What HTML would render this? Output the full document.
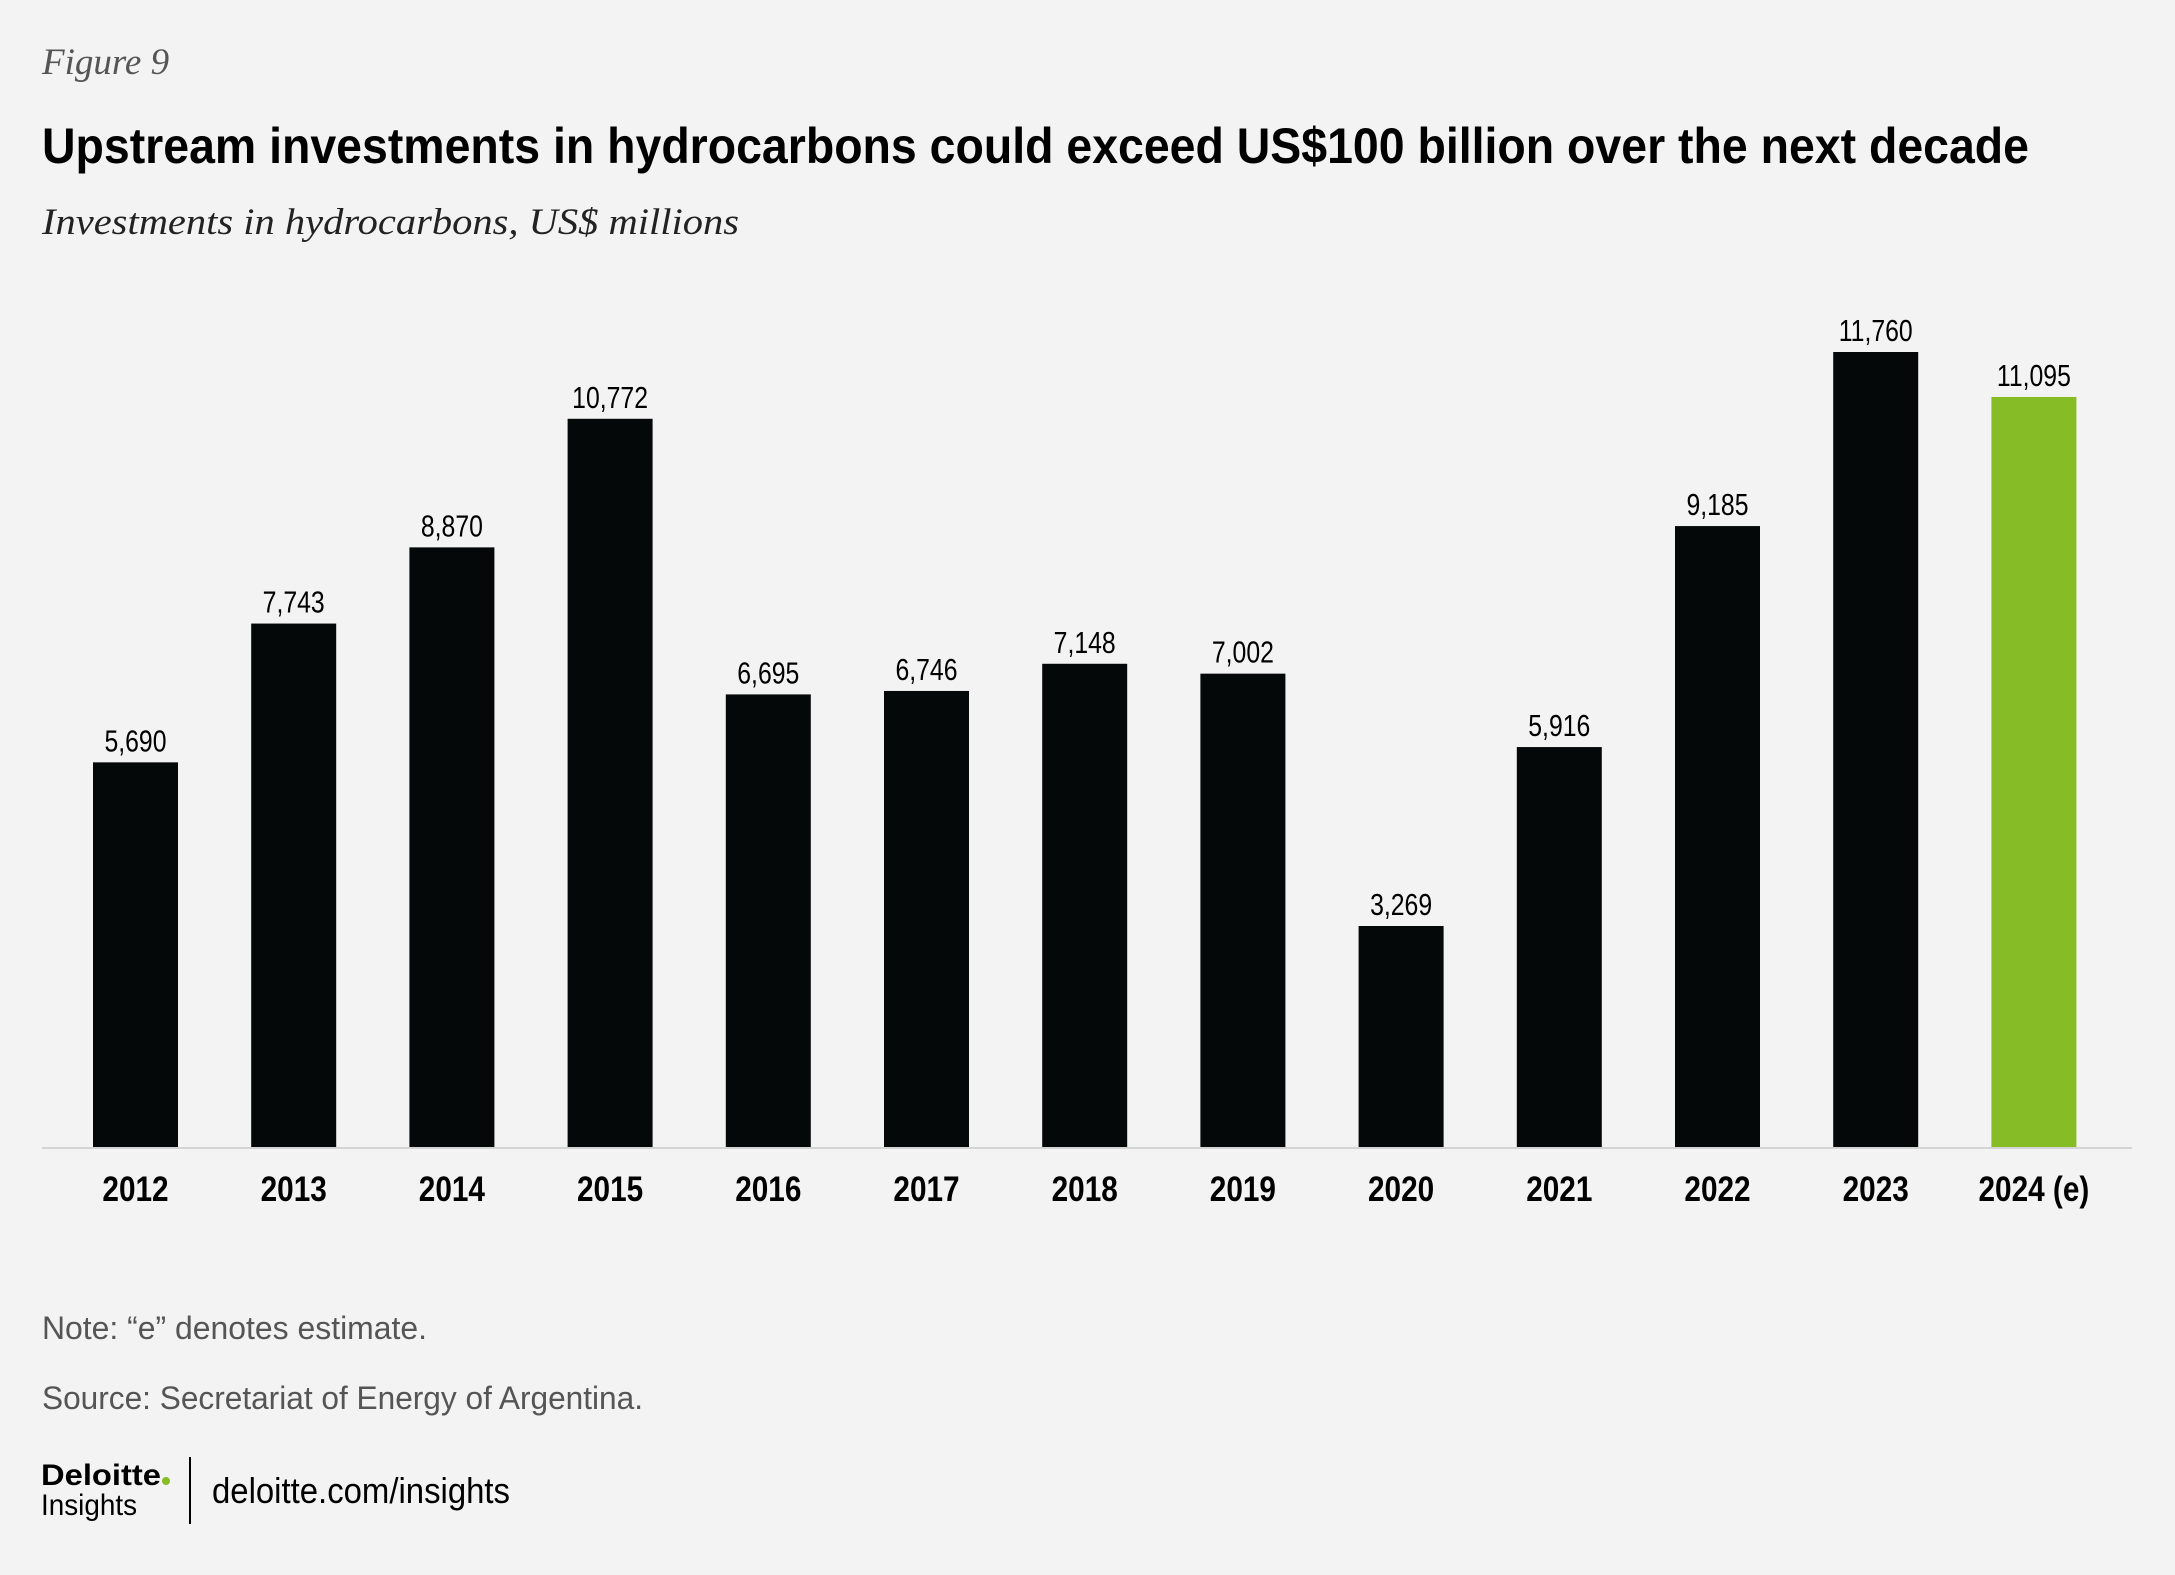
<!DOCTYPE html>
<html><head><meta charset="utf-8"><style>
html,body{margin:0;padding:0;background:#f3f3f3;}
svg{display:block;}
</style></head><body>
<svg id="chart" width="2175" height="1575" viewBox="0 0 2175 1575" xmlns="http://www.w3.org/2000/svg">
<rect width="2175" height="1575" fill="#f3f3f3"/>
<text x="42" y="74" font-family="Liberation Serif, serif" font-style="italic" font-size="37" fill="#555">Figure 9</text>
<text x="42" y="163" font-family="Liberation Sans, sans-serif" font-weight="bold" font-size="50" fill="#000" textLength="1987" lengthAdjust="spacingAndGlyphs">Upstream investments in hydrocarbons could exceed US$100 billion over the next decade</text>
<text x="42" y="234" font-family="Liberation Serif, serif" font-style="italic" font-size="37" fill="#222" textLength="697" lengthAdjust="spacingAndGlyphs">Investments in hydrocarbons, US$ millions</text>
<g id="plot"></g>
<line x1="42" y1="1148" x2="2132" y2="1148" stroke="#d4d4d4" stroke-width="2"/>
<text x="42" y="1339" font-family="Liberation Sans, sans-serif" font-size="32" fill="#555" textLength="385" lengthAdjust="spacingAndGlyphs">Note: “e” denotes estimate.</text>
<text x="42" y="1409" font-family="Liberation Sans, sans-serif" font-size="32" fill="#555" textLength="601" lengthAdjust="spacingAndGlyphs">Source: Secretariat of Energy of Argentina.</text>
<g>
<text x="41" y="1485" font-family="Liberation Sans, sans-serif" font-weight="bold" font-size="30" fill="#000" textLength="120" lengthAdjust="spacingAndGlyphs">Deloitte</text>
<circle cx="166" cy="1481" r="4" fill="#86bc25"/>
<text x="41" y="1515" font-family="Liberation Sans, sans-serif" font-size="30" fill="#000" textLength="96" lengthAdjust="spacingAndGlyphs">Insights</text>
</g>
<line x1="190" y1="1457" x2="190" y2="1524" stroke="#000" stroke-width="2"/>
<text x="212" y="1503" font-family="Liberation Sans, sans-serif" font-size="36" fill="#000" textLength="298" lengthAdjust="spacingAndGlyphs">deloitte.com/insights</text>
</svg>
<script>
const categories = ["2012","2013","2014","2015","2016","2017","2018","2019","2020","2021","2022","2023","2024 (e)"];
const values = [5690,7743,8870,10772,6695,6746,7148,7002,3269,5916,9185,11760,11095];
const valueLabels = ["5,690","7,743","8,870","10,772","6,695","6,746","7,148","7,002","3,269","5,916","9,185","11,760","11,095"];
const estimateFlags = [false,false,false,false,false,false,false,false,false,false,false,false,true];

const NS = "http://www.w3.org/2000/svg";
const plot = document.getElementById('plot');
const baseY = 1147, pxPerUnit = 795/11760;
const firstX = 93, step = 158.2, barW = 85;
function xPos(i){ return firstX + i*step; }
function yPos(v){ return baseY - v*pxPerUnit; }
categories.forEach((c,i)=>{
  const x = xPos(i), y = yPos(values[i]);
  const r = document.createElementNS(NS,'rect');
  r.setAttribute('x',x); r.setAttribute('y',y);
  r.setAttribute('width',barW); r.setAttribute('height',baseY-y);
  r.setAttribute('fill', estimateFlags[i] ? '#86bc25' : '#050809');
  
  
  plot.appendChild(r);
  const t = document.createElementNS(NS,'text');
  const cx = x + barW/2;
  t.setAttribute('x', cx); t.setAttribute('y', y-11);
  t.setAttribute('text-anchor','middle');
  t.setAttribute('font-family','Liberation Sans, sans-serif');
  t.setAttribute('font-size','31');
  t.setAttribute('fill','#000');
  t.setAttribute('transform', `translate(${cx} 0) scale(0.8 1) translate(${-cx} 0)`);
  t.textContent = valueLabels[i];
  
  
  plot.appendChild(t);
  const l = document.createElementNS(NS,'text');
  l.setAttribute('x', cx); l.setAttribute('y', 1201);
  l.setAttribute('text-anchor','middle');
  l.setAttribute('font-family','Liberation Sans, sans-serif');
  l.setAttribute('font-weight','bold');
  l.setAttribute('font-size','35');
  l.setAttribute('fill','#000');
  l.setAttribute('transform', `translate(${cx} 0) scale(0.85 1) translate(${-cx} 0)`);
  l.textContent = c;
  
  
  plot.appendChild(l);
});
</script>
</body></html>
